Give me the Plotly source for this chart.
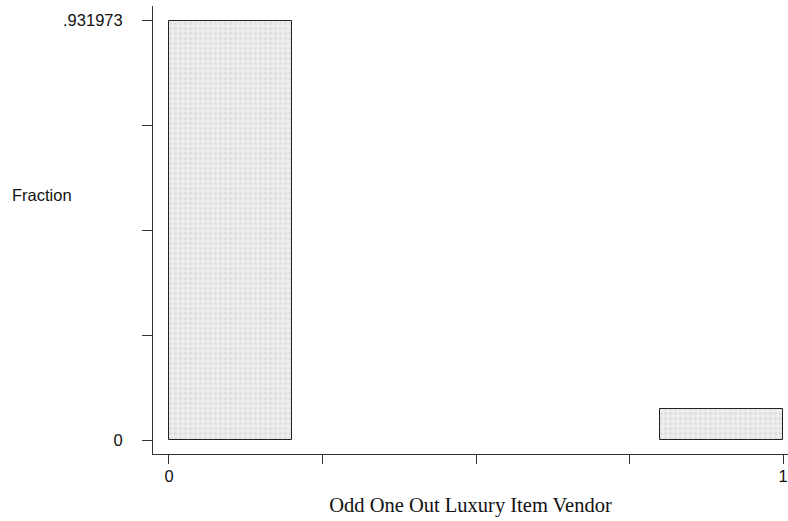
import plotly.graph_objects as go

# Histogram bins: left edge, width, and fraction of observations
bin_left = [0.0, 0.8]
bin_width = [0.2, 0.2]
fraction = [0.931973, 0.068027]

y_tick_vals = [0, 0.931973 / 4, 0.931973 / 2, 0.931973 * 3 / 4, 0.931973]
y_tick_text = ["0", "", "", "", ".931973"]
x_tick_vals = [0, 0.25, 0.5, 0.75, 1]
x_tick_text = ["0", "", "", "", "1"]

centers = [l + w / 2 for l, w in zip(bin_left, bin_width)]

fig = go.Figure(
    go.Bar(
        x=centers,
        y=fraction,
        width=bin_width,
        marker=dict(
            color="#ededed",
            line=dict(color="#222222", width=1),
            pattern=dict(shape=".", fgcolor="#cfcfcf", bgcolor="#eeeeee",
                         size=5, solidity=0.4),
        ),
        hoverinfo="skip",
    )
)

axis_font = dict(family="Liberation Sans, Arial, sans-serif", size=16.5, color="#111111")

fig.update_layout(
    width=788,
    height=521,
    margin=dict(l=153, r=0, t=6, b=67),
    paper_bgcolor="white",
    plot_bgcolor="white",
    showlegend=False,
    bargap=0,
    xaxis=dict(
        range=[-0.026, 1.008],
        tickvals=x_tick_vals,
        ticktext=x_tick_text,
        ticks="outside",
        ticklen=9,
        tickcolor="#333333",
        showline=True,
        linecolor="#333333",
        linewidth=1,
        showgrid=False,
        zeroline=False,
        tickfont=axis_font,
        ticklabelstandoff=-2,
        title=dict(
            text="Odd One Out Luxury Item Vendor",
            font=dict(family="Liberation Serif, Times New Roman, serif", size=20.5, color="#111111"),
            standoff=13,
        ),
    ),
    yaxis=dict(
        range=[-0.031, 0.9646],
        tickvals=y_tick_vals,
        ticktext=y_tick_text,
        ticks="outside",
        ticklen=10,
        tickcolor="#333333",
        showline=True,
        linecolor="#333333",
        linewidth=1,
        showgrid=False,
        zeroline=False,
        tickfont=axis_font,
        ticklabelstandoff=16,
    ),
    annotations=[
        dict(
            text="Fraction",
            xref="paper", yref="paper",
            x=-153 / 635 + 10 / 635, y=(454 - 195) / 448,
            xanchor="left", yanchor="middle",
            showarrow=False,
            font=axis_font,
        )
    ],
)

fig.write_html("out.html")
